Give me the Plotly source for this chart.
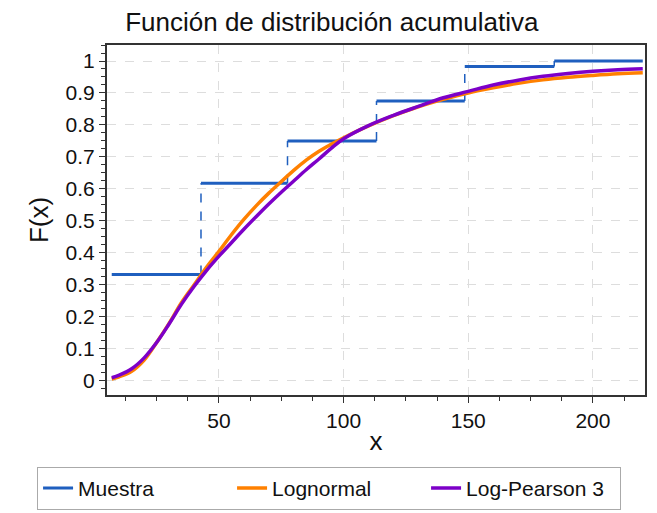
import plotly.graph_objects as go

# Empirical CDF (Muestra): step edges and levels
step_x = [7, 42.8, 77.5, 113.2, 148.6, 184.5, 220]
step_f = [0.333, 0.618, 0.75, 0.875, 0.983, 1.0]

# Fitted CDFs, values
x_fit = [7, 10, 15, 20, 25, 30, 35, 40, 45, 50, 55, 60, 65, 70, 75, 80, 85, 90,
         95, 100, 110, 120, 130, 140, 150, 160, 170, 180, 190, 200, 210, 220]
f_lognormal = [0.006, 0.013, 0.030, 0.065, 0.12, 0.18, 0.245, 0.30, 0.355, 0.405,
               0.457, 0.505, 0.548, 0.587, 0.623, 0.658, 0.69, 0.717, 0.74, 0.76,
               0.797, 0.829, 0.857, 0.88, 0.90, 0.916, 0.93, 0.941, 0.949, 0.955,
               0.96, 0.963]
f_lp3 = [0.010, 0.018, 0.038, 0.072, 0.12, 0.178, 0.24, 0.295, 0.345, 0.39,
         0.432, 0.474, 0.514, 0.553, 0.59, 0.625, 0.66, 0.693, 0.727, 0.757,
         0.798, 0.83, 0.858, 0.885, 0.905, 0.925, 0.94, 0.952, 0.961, 0.968,
         0.973, 0.976]

blue = "#1f5fbf"
orange = "#ff8000"
purple = "#7d00c8"
font = "Liberation Sans, Arial, sans-serif"

# horizontal pieces of the step function (solid) and risers (dashed)
hx, hy, vx, vy = [], [], [], []
for i, f in enumerate(step_f):
    hx += [step_x[i], step_x[i + 1], None]
    hy += [f, f, None]
    if i > 0:
        vx += [step_x[i], step_x[i], None]
        vy += [step_f[i - 1], f, None]

fig = go.Figure()
fig.add_trace(go.Scatter(x=vx, y=vy, mode="lines", showlegend=False,
                         line=dict(color=blue, width=1.5, dash="dash")))
fig.add_trace(go.Scatter(x=hx, y=hy, mode="lines", name="Muestra",
                         line=dict(color=blue, width=3)))
fig.add_trace(go.Scatter(x=x_fit, y=f_lognormal, mode="lines", name="Lognormal",
                         line=dict(color=orange, width=3.5, shape="spline")))
fig.add_trace(go.Scatter(x=x_fit, y=f_lp3, mode="lines", name="Log-Pearson 3",
                         line=dict(color=purple, width=3.5, shape="spline")))

axis_common = dict(
    showline=True, linecolor="#333333", linewidth=2, mirror=True,
    ticks="outside", ticklen=6, tickcolor="#333333",
    showgrid=True, gridcolor="#dddddd", griddash="dash", gridwidth=1,
    zeroline=False, tickfont=dict(size=21, color="#111111", family=font),
)

# page body keeps its default 8px margin, so the figure is 8px smaller
fig.update_layout(
    width=649, height=505,
    margin=dict(l=99, r=12, t=37, b=118, autoexpand=False),
    paper_bgcolor="white", plot_bgcolor="white",
    font=dict(family=font, color="#111111"),
    title=dict(text="Función de distribución acumulativa", x=0.499, xref="container",
               y=0.972, yanchor="middle", font=dict(size=26, color="#111111")),
    xaxis=dict(range=[5.1, 220.9], tickvals=[50, 100, 150, 200],
               minor=dict(dtick=12.5, tick0=0, ticks="outside", ticklen=4,
                          tickcolor="#333333", showgrid=False),
               title=dict(text="x", font=dict(size=26), standoff=1),
               **axis_common),
    yaxis=dict(range=[-0.044, 1.05], dtick=0.1, tick0=0,
               minor=dict(dtick=0.025, tick0=0, ticks="outside", ticklen=4,
                          tickcolor="#333333", showgrid=False),
               title=dict(text="F(x)", font=dict(size=26), standoff=9),
               **axis_common),
    legend=dict(orientation="h", x=-0.13, xanchor="left", y=-0.205, yanchor="top",
                bordercolor="#aaaaaa", borderwidth=1,
                entrywidth=149, entrywidthmode="pixels",
                font=dict(size=21, color="#111111"), itemwidth=30),
)

fig.write_html("out.html")
